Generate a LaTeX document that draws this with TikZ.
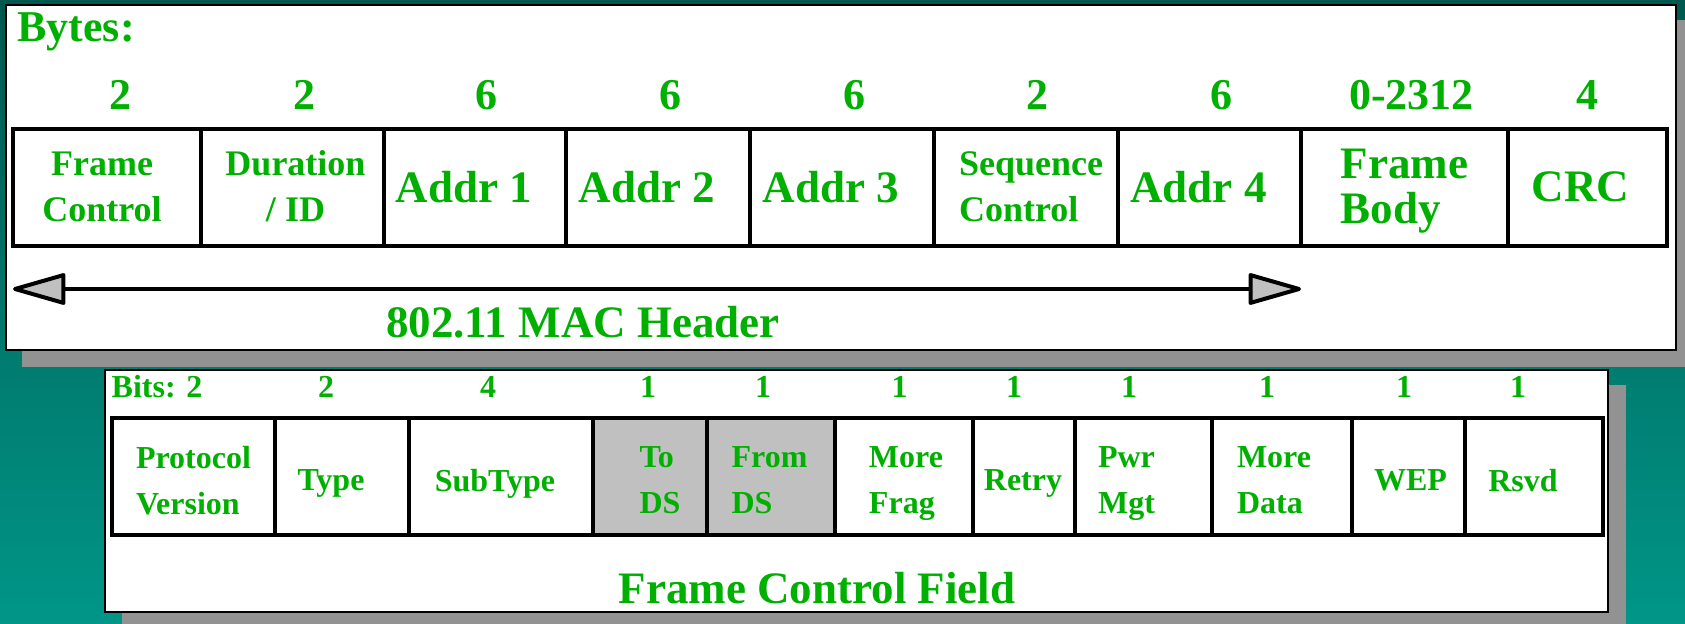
\documentclass[tikz,border=0pt]{standalone}
\usepackage{fontspec}
\setmainfont{Liberation Serif}
\usetikzlibrary{arrows.meta,positioning,calc}
\definecolor{FieldGreen}{RGB}{0,176,0}
\definecolor{ShadowGray}{RGB}{146,146,146}
\definecolor{DSGray}{RGB}{192,192,192}
\definecolor{TealTop}{RGB}{0,88,78}
\definecolor{TealBottom}{RGB}{0,150,136}

\begin{document}
\begin{tikzpicture}[x=0.5pt,y=-0.5pt,
    field/.style={draw,line width=2.2pt,inner sep=0pt,outer sep=0pt,
                  minimum height=58.5pt,anchor=north west},
    lbig/.style={text=FieldGreen,font=\bfseries\fontsize{22.5}{22.5}\selectfont,
                 align=center,text depth=0pt,inner sep=0pt},
    lbigleft/.style={lbig,align=left},
    lsmall/.style={lbig,font=\bfseries\fontsize{18}{23}\selectfont},
    lsmallleft/.style={lsmall,align=left},
    lbit/.style={lbig,font=\bfseries\fontsize{16}{23}\selectfont,align=left},
    num/.style={text=FieldGreen,font=\bfseries\fontsize{22}{22}\selectfont,
                anchor=base,inner sep=0pt},
    bitnum/.style={num,font=\bfseries\fontsize{16}{16}\selectfont},
    title/.style={num,font=\bfseries\fontsize{22.5}{22.5}\selectfont},
    panel/.style={draw,line width=1.2pt,fill=white},
    hdrarrow/.style={line width=2pt,
      {Triangle[round,length=29pt,width=16pt,fill=DSGray]}-{Triangle[round,length=29pt,width=16pt,fill=DSGray]}}
  ]
  \useasboundingbox (0,0) rectangle (1685,624);
  \shade[top color=TealTop,bottom color=TealBottom] (0,0) rectangle (1685,624);

  % MAC frame
  \fill[ShadowGray] (22,20) rectangle (1685,367);
  \draw[panel] (6,5) rectangle (1676,350);
  \node[num,anchor=base west] (bytes) at (17,42) {Bytes:};
  \foreach \w/\n/\ns/\lab/\ls/\sty [count=\i, remember=\xr as \xl (initially 13),
      evaluate=\w as \xr using \xl+\w] in {
      188/2/13/{Frame\\Control}/-5/lsmall,
      183/2/12/{Duration\\/ ID}/3/lsmall,
      182/6/11/{Addr 1}/-11/lbig,
      184/6/12/{Addr 2}/-11/lbig,
      184/6/12/{Addr 3}/-11/lbig,
      184/2/11/{Sequence\\Control}/5/lsmallleft,
      183/6/12/{Addr 4}/-11/lbig,
      207/0-2312/7/{Frame\\Body}/0/lbigleft,
      159/4/0/CRC/-7/lbig}{
    \node[field,minimum width=\w*0.5pt] (f\i) at (\xl,129) {};
    \node[\sty] (fl\i) at ($(f\i.center)+(\ls,-1)$) {\lab};
    \node[num] (fn\i) at ($(f\i.north)+(\ns,-19)$) {\n};
  }
  \coordinate (hl) at (f1.south west |- 0,289);
  \coordinate (hr) at (f8.south west |- 0,289);
  \draw[hdrarrow] (hl) -- (hr);
  \node[title] (machdr) at (583,338) {802.11 MAC Header};

  % frame control field
  \fill[ShadowGray] (122,385) rectangle (1626,624);
  \draw[panel] (105,370) rectangle (1608,612);
  \foreach \w/\n/\ns/\lab/\ls/\fc [count=\i, remember=\xr as \xl (initially 112),
      evaluate=\w as \xr using \xl+\w] in {
      163/{Bits: 2}/-36.5/{Protocol\\Version}/0/white,
      134/2/-16/Type/-11/white,
      184/4/-13/SubType/-6/white,
      114/1/-2/{To\\DS}/10/DSGray,
      128/1/-8/{From\\DS}/-1.5/DSGray,
      138/1/-4.5/{More\\Frag}/2/white,
      102/1/-10/Retry/-1/white,
      137/1/-14.5/{Pwr\\Mgt}/-17/white,
      140/1/-15/{More\\Data}/-8/white,
      113/1/-4.5/WEP/2/white,
      138/1/-16/Rsvd/-11/white}{
    \node[field,fill=\fc,minimum width=\w*0.5pt] (b\i) at (\xl,418) {};
    \node[lbit] (bl\i) at ($(b\i.center)+(\ls,3.5)$) {\lab};
    \node[bitnum] (bn\i) at ($(b\i.north)+(\ns,-20)$) {\n};
  }
  \node[title] (fcf) at (817,603) {Frame Control Field};
\end{tikzpicture}
\end{document}
